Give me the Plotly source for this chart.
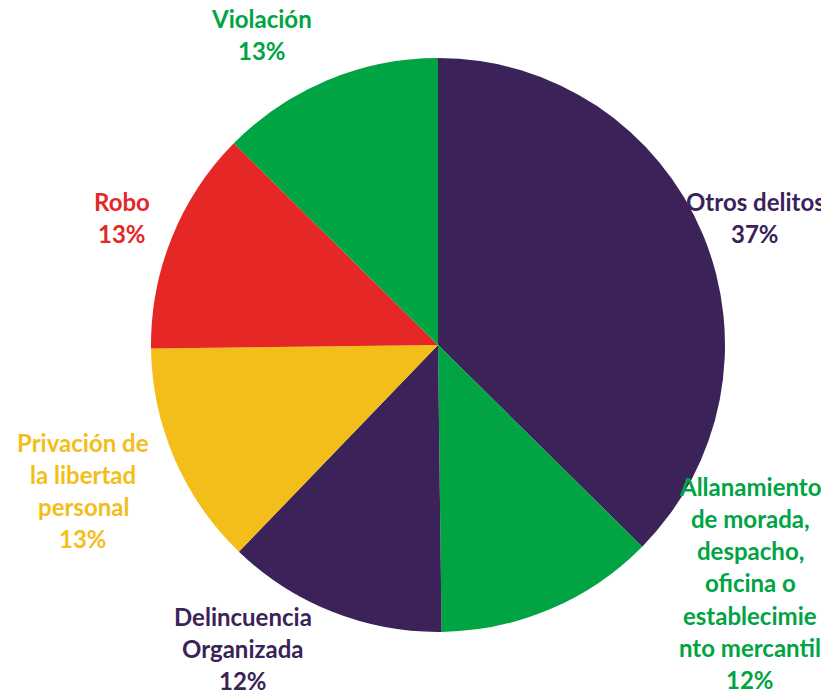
import plotly.graph_objects as go

# ---- data ----
categories = [
    "Otros delitos",
    "Allanamiento de morada, despacho, oficina o establecimiento mercantil",
    "Delincuencia Organizada",
    "Privación de la libertad personal",
    "Robo",
    "Violación",
]
label_lines = [
    ["Otros delitos"],
    ["Allanamiento", "de morada,", "despacho,", "oficina o", "establecimie", "nto mercantil"],
    ["Delincuencia", "Organizada"],
    ["Privación de", "la libertad", "personal"],
    ["Robo"],
    ["Violación"],
]
# shares (%); labels show them rounded
values = [37.4, 12.4, 12.4, 12.6, 12.6, 12.6]
colors = ["#3B2359", "#00A443", "#3B2359", "#F3BE1A", "#E52725", "#00A443"]

# ---- layout constants (page pixels; figure sits 8px in from the page corner) ----
OFF = 8
W, H = 829, 691
CX, CY, R = 438 - OFF, 345 - OFF, 287
label_pos = [(755, 201), (750, 486), (243, 616), (83, 442), (122, 201), (262, 18)]  # px of first line
LINE = 32.3
FONT = "Lato"
FSIZE = 24

fig = go.Figure(
    go.Pie(
        labels=categories,
        values=values,
        sort=False,
        direction="clockwise",
        rotation=0,
        marker=dict(colors=colors, line=dict(width=0)),
        textinfo="none",
        hoverinfo="label+percent",
        domain=dict(x=[(CX - R) / W, (CX + R) / W], y=[1 - (CY + R) / H, 1 - (CY - R) / H]),
        showlegend=False,
    )
)

total = sum(values)
annotations = []
for lines, v, c, (px, py) in zip(label_lines, values, colors, label_pos):
    all_lines = lines + [f"{v / total * 100:.0f}%"]
    for i, t in enumerate(all_lines):
        annotations.append(
            dict(
                text=f"<b>{t}</b>",
                x=(px - OFF) / W,
                y=1 - (py - OFF + i * LINE) / H,
                xref="paper",
                yref="paper",
                xanchor="center",
                yanchor="middle",
                showarrow=False,
                font=dict(family=FONT, size=FSIZE, color=c),
            )
        )

fig.update_layout(
    width=W,
    height=H,
    margin=dict(l=0, r=0, t=0, b=0),
    paper_bgcolor="white",
    plot_bgcolor="white",
    annotations=annotations,
)

fig.write_html("out.html")
